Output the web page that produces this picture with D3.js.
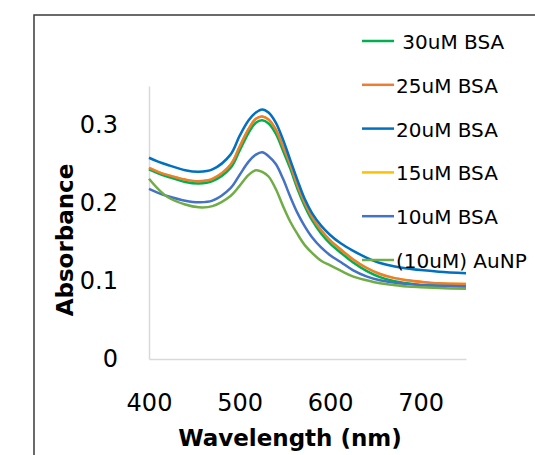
<!DOCTYPE html>
<html>
<head>
<meta charset="utf-8">
<script src="https://cdn.jsdelivr.net/npm/d3@7"></script>
<style>
    body { margin: 0; background: #fff; }
    svg { display: block; font-family: "DejaVu Sans", sans-serif; }
    .tick text { font-size: 24px; fill: #000; }
    .domain { stroke: #d9d9d9; stroke-width: 1.5; }
    .axis-title { font-size: 23px; font-weight: bold; }
    .legend-label { font-size: 20px; white-space: pre; }
</style>
</head>
<body>
<div id="chart"></div>
<script>
// Wavelengths (nm) the curves were read at.
let wavelengths = [400, 410, 420, 440, 455, 470, 490, 500, 510, 518, 525, 532, 540, 548, 556, 564, 572, 580, 590, 600, 612, 625, 640, 655, 670, 685, 700, 720, 750];

let bsa30 = [0.243, 0.238, 0.234, 0.227, 0.225, 0.228, 0.245, 0.267, 0.290, 0.303, 0.306, 0.302, 0.289, 0.267, 0.244, 0.218, 0.196, 0.178, 0.161, 0.148, 0.136, 0.124, 0.113, 0.105, 0.100, 0.097, 0.095, 0.094, 0.093];
let bsa25 = [0.245, 0.240, 0.236, 0.230, 0.228, 0.231, 0.249, 0.272, 0.295, 0.308, 0.311, 0.307, 0.294, 0.272, 0.249, 0.222, 0.200, 0.182, 0.165, 0.152, 0.140, 0.128, 0.117, 0.109, 0.104, 0.101, 0.099, 0.097, 0.096];
let bsa20 = [0.258, 0.253, 0.249, 0.242, 0.240, 0.243, 0.262, 0.286, 0.306, 0.316, 0.320, 0.316, 0.303, 0.281, 0.255, 0.229, 0.205, 0.187, 0.171, 0.159, 0.148, 0.139, 0.130, 0.123, 0.119, 0.116, 0.114, 0.112, 0.110];
// 15uM sits underneath the 25uM curve in the picture.
let bsa15 = [0.245, 0.240, 0.236, 0.230, 0.228, 0.231, 0.249, 0.272, 0.295, 0.308, 0.311, 0.307, 0.294, 0.272, 0.249, 0.222, 0.200, 0.182, 0.165, 0.152, 0.140, 0.128, 0.117, 0.109, 0.104, 0.101, 0.099, 0.097, 0.096];
let bsa10 = [0.218, 0.213, 0.209, 0.203, 0.201, 0.203, 0.219, 0.236, 0.253, 0.262, 0.265, 0.260, 0.250, 0.231, 0.208, 0.187, 0.170, 0.156, 0.143, 0.133, 0.124, 0.114, 0.106, 0.101, 0.098, 0.096, 0.095, 0.094, 0.093];
let aunp = [0.231, 0.218, 0.208, 0.198, 0.1945, 0.196, 0.209, 0.222, 0.236, 0.242, 0.240, 0.234, 0.218, 0.196, 0.176, 0.160, 0.146, 0.136, 0.126, 0.120, 0.113, 0.106, 0.101, 0.097, 0.095, 0.093, 0.092, 0.091, 0.090];

let seriesNames = [" 30uM BSA", "25uM BSA", "20uM BSA", "15uM BSA", "10uM BSA", "(10uM) AuNP"];
let seriesValues = [bsa30, bsa25, bsa20, bsa15, bsa10, aunp];
let seriesColors = ["#00B050", "#ED7D31", "#0070C0", "#FFC000", "#4472C4", "#70AD47"];

let xTicks = [400, 500, 600, 700];
let yTicks = [0, 0.1, 0.2, 0.3];

let width = 535;
let height = 455;

let svg = d3.select("#chart")
    .append("svg")
    .attr("width", width)
    .attr("height", height);

// Outer frame (runs off the right and bottom edges).
svg.append("rect")
    .attr("x", 34)
    .attr("y", 15)
    .attr("width", 600)
    .attr("height", 500)
    .attr("fill", "none")
    .attr("stroke", "#3a3a3a")
    .attr("stroke-width", 1.5);

let x = d3.scaleLinear().domain([400, 750]).range([149, 466]);
let y = d3.scaleLinear().domain([0, 0.35]).range([359, 86]);

svg.append("g")
    .attr("class", "axis")
    .attr("transform", "translate(0,359)")
    .call(d3.axisBottom(x).tickValues(xTicks).tickSize(0).tickSizeOuter(0).tickPadding(35));

svg.append("g")
    .attr("class", "axis")
    .attr("transform", "translate(149,0)")
    .call(d3.axisLeft(y).tickValues(yTicks).tickFormat(d3.format("~g")).tickSize(0).tickSizeOuter(0).tickPadding(31));

// Let the page fonts apply instead of d3's axis defaults.
svg.selectAll(".axis").attr("font-size", null).attr("font-family", null);

// Axis titles.
svg.append("text")
    .attr("class", "axis-title")
    .attr("x", 290)
    .attr("y", 446)
    .attr("text-anchor", "middle")
    .text("Wavelength (nm)");

svg.append("text")
    .attr("class", "axis-title")
    .attr("transform", "translate(73,240) rotate(-90)")
    .attr("text-anchor", "middle")
    .text("Absorbance");

// Curves.
let line = d3.line()
    .x((d, i) => x(wavelengths[i]))
    .y(d => y(d))
    .curve(d3.curveCatmullRom.alpha(0.5));

let drawOrder = [3, 0, 1, 4, 5, 2];
svg.append("g")
    .selectAll("path")
    .data(drawOrder)
    .enter()
    .append("path")
    .attr("d", i => line(seriesValues[i]))
    .attr("fill", "none")
    .attr("stroke", i => seriesColors[i])
    .attr("stroke-width", 2.5)
    .attr("stroke-linejoin", "round");

// Legend.
let legend = svg.append("g")
    .selectAll("g")
    .data(seriesNames)
    .enter()
    .append("g")
    .attr("transform", (d, i) => "translate(0," + (41 + i * 43.8) + ")");

legend.append("line")
    .attr("x1", 362)
    .attr("x2", 394)
    .attr("stroke", (d, i) => seriesColors[i])
    .attr("stroke-width", 2.5);

legend.append("text")
    .attr("class", "legend-label")
    .attr("x", 396)
    .attr("y", 8)
    .text(d => d);
</script>
</body>
</html>
